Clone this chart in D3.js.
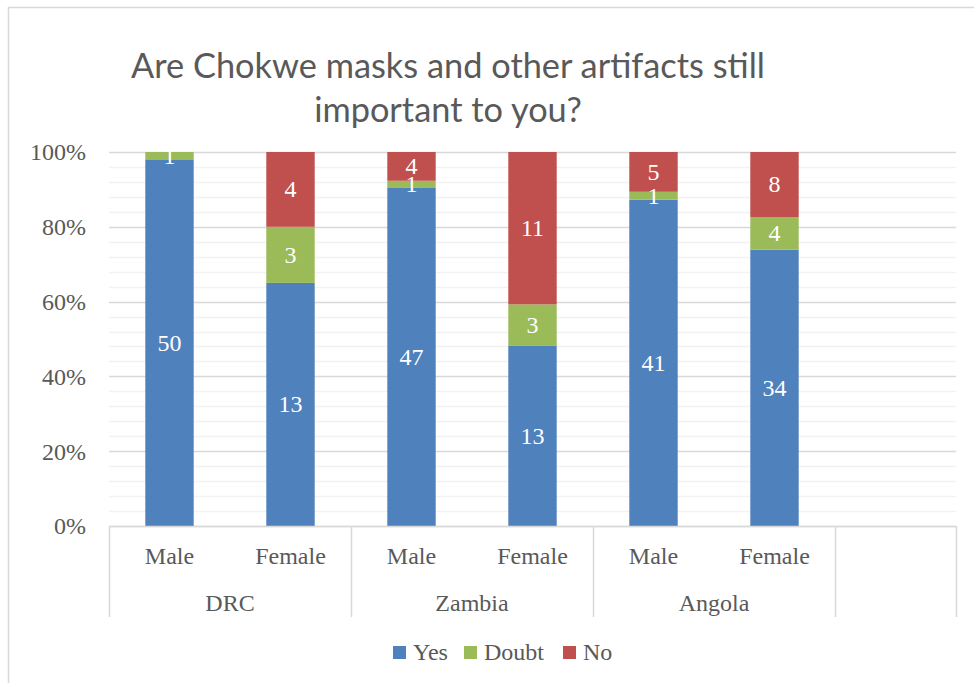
<!DOCTYPE html>
<html><head><meta charset="utf-8">
<script src="https://cdn.jsdelivr.net/npm/d3@7"></script>
<style>body{margin:0;background:#fff}svg{display:block}</style>
</head><body>
<svg id="c" width="974" height="683"></svg>
<script>
const titleLines = ["Are Chokwe masks and other artifacts still", "important to you?"];
const countries = ["DRC", "Zambia", "Angola"];
const categories = ["DRC|Male", "DRC|Female", "Zambia|Male", "Zambia|Female", "Angola|Male", "Angola|Female", "blank"];
const catLabels = ["Male", "Female", "Male", "Female", "Male", "Female", ""];
const yesVals = [50, 13, 47, 13, 41, 34];
const doubtVals = [1, 3, 1, 3, 1, 4];
const noVals = [0, 4, 4, 11, 5, 8];
const seriesNames = ["Yes", "Doubt", "No"];
const colors = ["#4F81BD", "#9BBB59", "#C0504D"];
const yTicks = [0, 0.2, 0.4, 0.6, 0.8, 1.0];

const svg = d3.select("#c");
const L = 109, R = 956, T = 152, B = 526;
const serif = "'Liberation Serif', 'Times New Roman', serif";
const fsz = 24;
const txt = "#595959";

// chart border (cropped at right / bottom)
svg.append("rect").attr("x", 8.5).attr("y", 7.5).attr("width", 1000).attr("height", 700)
  .attr("fill", "#fff").attr("stroke", "#d9d9d9").attr("stroke-width", 1.5);

const x = d3.scaleBand().domain(categories).range([L, R]).paddingInner(0.6).paddingOuter(0.3);
const y = d3.scaleLinear().domain([0, 1]).range([B, T]);

// gridlines
const minor = d3.range(0, 1.0001, 0.04);
svg.append("g").selectAll("line").data(minor).join("line")
  .attr("x1", L).attr("x2", R)
  .attr("y1", d => Math.round(y(d)) + 0.5).attr("y2", d => Math.round(y(d)) + 0.5)
  .attr("stroke", (d) => (Math.abs(d * 5 - Math.round(d * 5)) < 1e-6) ? "#d9d9d9" : "#f2f2f2")
  .attr("stroke-width", 1.3);

// y axis labels
const yAxis = d3.axisLeft(y).tickValues(yTicks).tickFormat(d3.format(".0%")).tickSize(0).tickPadding(23);
const ya = svg.append("g").attr("transform", `translate(${L},0)`).call(yAxis);
ya.select(".domain").remove();
ya.selectAll("text").attr("font-family", serif).attr("font-size", fsz).attr("fill", txt).attr("dy", "0.33em");

// stacked data
const rows = yesVals.map((v, i) => {
  const tot = v + doubtVals[i] + noVals[i];
  return { cat: categories[i], vals: [v, doubtVals[i], noVals[i]], tot };
});
const segs = [];
rows.forEach(r => {
  let acc = 0;
  r.vals.forEach((v, k) => {
    const y0 = acc / r.tot; acc += v; const y1 = acc / r.tot;
    segs.push({ cat: r.cat, k, v, y0, y1 });
  });
});

svg.append("g").selectAll("rect").data(segs.filter(s => s.v > 0)).join("rect")
  .attr("x", s => x(s.cat)).attr("width", x.bandwidth())
  .attr("y", s => y(s.y1)).attr("height", s => y(s.y0) - y(s.y1))
  .attr("fill", s => colors[s.k]);

svg.append("g").selectAll("text").data(segs.filter(s => s.v > 0)).join("text")
  .attr("x", s => x(s.cat) + x.bandwidth() / 2)
  .attr("y", s => (y(s.y0) + y(s.y1)) / 2)
  .attr("dy", "0.33em").attr("text-anchor", "middle")
  .attr("font-family", serif).attr("font-size", fsz).attr("fill", "#fff")
  .text(s => s.v);

// category axis
svg.append("line").attr("x1", L).attr("x2", R).attr("y1", B + 0.5).attr("y2", B + 0.5)
  .attr("stroke", "#d9d9d9").attr("stroke-width", 1.5);
const step = x.step();
const dividers = [0, 2, 4, 6, 7].map(i => L + i * step);
svg.append("g").selectAll("line").data(dividers).join("line")
  .attr("x1", d => Math.round(d) + 0.5).attr("x2", d => Math.round(d) + 0.5)
  .attr("y1", B).attr("y2", 617)
  .attr("stroke", "#d9d9d9").attr("stroke-width", 1.5);

svg.append("g").selectAll("text").data(categories).join("text")
  .attr("x", d => x(d) + x.bandwidth() / 2).attr("y", 556).attr("dy", "0.33em")
  .attr("text-anchor", "middle").attr("font-family", serif).attr("font-size", fsz).attr("fill", txt)
  .text((d, i) => catLabels[i]);

svg.append("g").selectAll("text").data(countries).join("text")
  .attr("x", (d, i) => L + (2 * i + 1) * step).attr("y", 603).attr("dy", "0.33em")
  .attr("text-anchor", "middle").attr("font-family", serif).attr("font-size", fsz).attr("fill", txt)
  .text(d => d);

// title
const tg = svg.append("g");
const tfont = "Lato, 'Open Sans', sans-serif";
const t1 = tg.append("text").attr("x", 448).attr("y", 78).attr("text-anchor", "middle")
  .attr("font-family", tfont).attr("font-size", 32).attr("fill", txt).text(titleLines[0]);
const w = t1.node().getComputedTextLength();
const fs = 32 * 634 / w;
t1.attr("font-size", fs);
tg.append("text").attr("x", 448).attr("y", 122).attr("text-anchor", "middle")
  .attr("font-family", tfont).attr("font-size", fs).attr("fill", txt).text(titleLines[1]);

// legend
const legX = [393, 464, 563];
const lg = svg.append("g").selectAll("g").data(seriesNames).join("g")
  .attr("transform", (d, i) => `translate(${legX[i]},646)`);
lg.append("rect").attr("width", 13).attr("height", 13).attr("fill", (d, i) => colors[i]);
lg.append("text").attr("x", 20).attr("y", 6.5).attr("dy", "0.33em")
  .attr("font-family", serif).attr("font-size", fsz).attr("fill", txt).text(d => d);
</script>
</body></html>
